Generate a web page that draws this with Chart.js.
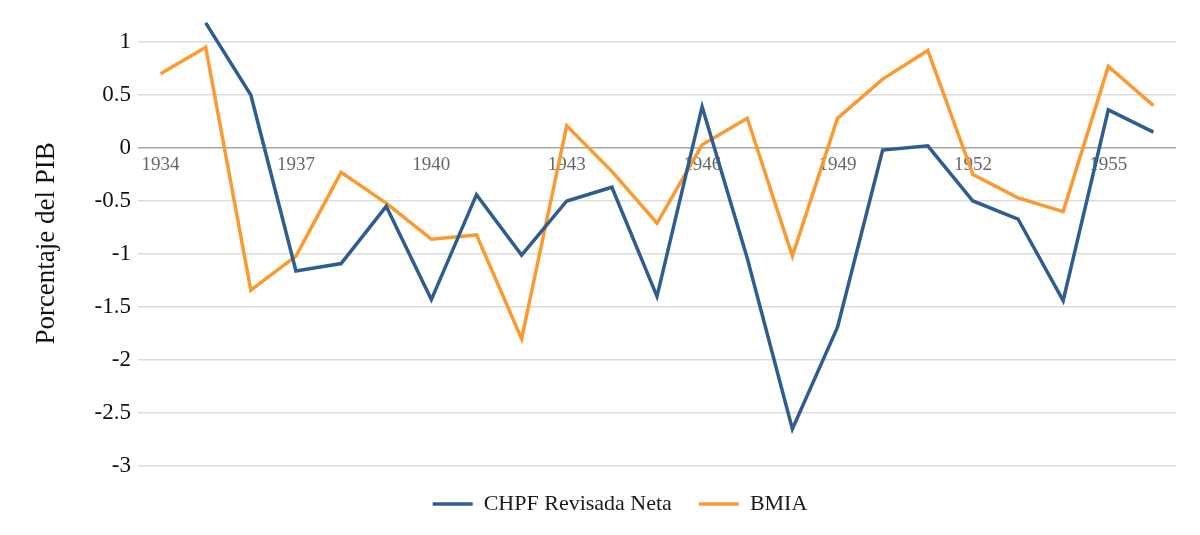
<!DOCTYPE html>
<html>
<head>
<meta charset="utf-8">
<title>CHPF vs BMIA</title>
<script src="https://cdn.jsdelivr.net/npm/chart.js@4/dist/chart.umd.min.js"></script>
<style>
  html, body { margin: 0; padding: 0; background: #fff; }
  #wrap { width: 1200px; height: 535px; }
</style>
</head>
<body>
<div id="wrap"><canvas id="Chart"></canvas></div>
<script>
const years = ["1934", "1935", "1936", "1937", "1938", "1939", "1940", "1941", "1942", "1943", "1944", "1945",
  "1946", "1947", "1948", "1949", "1950", "1951", "1952", "1953", "1954", "1955", "1956"];
const chpfNeta = [null, 1.18, 0.50, -1.16, -1.09, -0.55, -1.43, -0.44, -1.01, -0.50, -0.37, -1.40,
  0.39, -1.04, -2.65, -1.69, -0.02, 0.02, -0.50, -0.67, -1.44, 0.36, 0.15];
const bmia = [0.70, 0.95, -1.34, -1.02, -0.23, -0.52, -0.86, -0.82, -1.80, 0.21, -0.22, -0.71,
  0.03, 0.28, -1.02, 0.28, 0.65, 0.92, -0.25, -0.47, -0.60, 0.77, 0.40];
const yTicks = [-3, -2.5, -2, -1.5, -1, -0.5, 0, 0.5, 1];

const serif = "'Liberation Serif', 'DejaVu Serif', serif";
const ctx = document.getElementById("Chart");

// la leyenda va un poco a la derecha del centro, como en el original
const legendShift = {
  id: "legendShift",
  afterLayout(chart) {
    chart.legend.left += 18;
    chart.legend.right += 18;
  },
};

const chart = new Chart(ctx, {
  type: "line",
  data: {
    labels: years,
    datasets: [
      {
        label: "CHPF Revisada Neta",
        data: chpfNeta,
        borderColor: "#2E5D91",
        backgroundColor: "#2E5D91",
        borderWidth: 3.5,
        pointRadius: 0,
        tension: 0,
      },
      {
        label: "BMIA",
        data: bmia,
        borderColor: "#FB9A30",
        backgroundColor: "#FB9A30",
        borderWidth: 3.5,
        pointRadius: 0,
        tension: 0,
      },
    ],
  },
  plugins: [legendShift],
  options: {
    responsive: true,
    maintainAspectRatio: false,
    animation: false,
    layout: { padding: { left: 28, right: 24, top: 17, bottom: 10 } },
    plugins: {
      tooltip: { enabled: false },
      legend: {
        position: "bottom",
        labels: {
          usePointStyle: true,
          pointStyle: "line",
          pointStyleWidth: 40,
          color: "#1a1a1a",
          font: { family: serif, size: 22 },
          padding: 27,
        },
      },
    },
    scales: {
      x: {
        position: { y: 0 },
        offset: true,
        grid: { display: false, drawTicks: false },
        border: { display: false },
        ticks: {
          autoSkip: false,
          maxRotation: 0,
          padding: 6,
          color: "#666",
          font: { family: serif, size: 19 },
          callback: function (val, i) {
            return i % 3 === 0 ? this.getLabelForValue(val) : "";
          },
        },
      },
      y: {
        min: -3,
        max: 1.2,
        afterBuildTicks: (axis) => {
          axis.ticks = yTicks.map((v) => ({ value: v }));
        },
        afterFit: (axis) => {
          axis.width = 110;
        },
        grid: {
          drawTicks: false,
          lineWidth: 1.5,
          color: (c) => (c.tick && c.tick.value === 0 ? "#a6a6a6" : "#dcdcdc"),
        },
        border: { display: false },
        ticks: {
          padding: 7,
          color: "#111",
          font: { family: serif, size: 23 },
          callback: (v) => String(v),
        },
        title: {
          display: true,
          text: "Porcentaje del PIB",
          color: "#111",
          font: { family: serif, size: 27 },
          padding: { top: 3, bottom: 0 },
        },
      },
    },
  },
});
</script>
</body>
</html>
